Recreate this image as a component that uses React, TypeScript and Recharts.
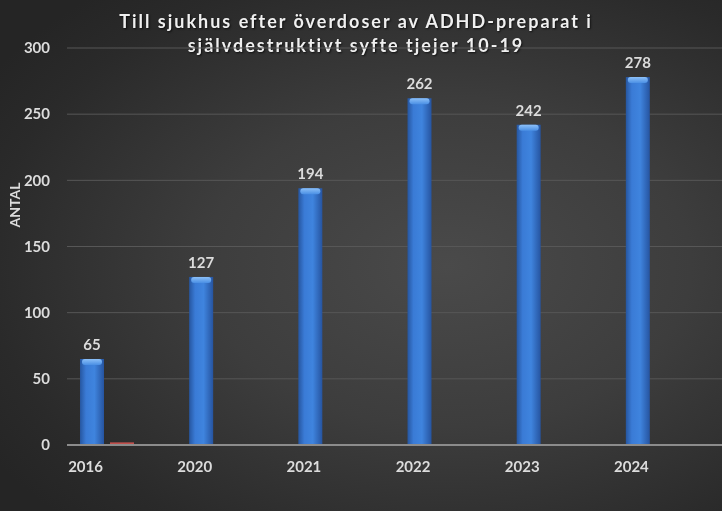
import React from 'react'
import { BarChart, Bar, XAxis, YAxis, CartesianGrid, LabelList } from 'recharts'

const years = ['2016', '2020', '2021', '2022', '2023', '2024']
const antal = [65, 127, 194, 262, 242, 278]
const serie2 = [2, 0, 0, 0, 0, 0]
const serie3 = [0, 0, 0, 0, 0, 0]
const yTicks = [0, 50, 100, 150, 200, 250, 300]
const TITLE_1 = 'Till sjukhus efter överdoser av ADHD-preparat i'
const TITLE_2 = 'självdestruktivt syfte tjejer 10-19'

const data = years.map((y, i) => ({ year: y, antal: antal[i], serie2: serie2[i], serie3: serie3[i] }))

const FONT = 'Lato, "Open Sans", sans-serif'
const TXT = '#dcdcdc'

const BlueBar = (props: any) => {
  const { x, y, width, height } = props
  if (!height || height <= 0) return null
  const cap = Math.min(6, height)
  return (
    <g>
      <rect x={x} y={y} width={width} height={height} fill="url(#barGrad)" />
      <rect x={x + 2} y={y} width={width - 4} height={cap} rx={3} fill="url(#capGrad)" />
    </g>
  )
}

const XTick = (props: any) => {
  const { x, y, payload } = props
  return (
    <text x={x - 36} y={y} dy="0.71em" textAnchor="middle" fill={TXT} fontSize={15} fontWeight={700} fontFamily={FONT}>
      {payload.value}
    </text>
  )
}

export default function App() {
  return (
    <div style={{ position: 'fixed', left: 0, top: 0, width: 722, height: 511, overflow: 'hidden',
      background: 'radial-gradient(ellipse 75% 70% at 62% 52%, #4a4a4a 0%, #3d3d3d 45%, #2a2a2a 85%, #252525 100%)' }}>
      <div style={{ position: 'absolute', left: 0, width: 712, top: 9, textAlign: 'center', color: '#f0f0f0',
        fontFamily: FONT, fontWeight: 700, fontSize: 18, lineHeight: '24px', letterSpacing: 2,
        textShadow: '1px 1px 2px rgba(0,0,0,0.7)' }}>
        <div>{TITLE_1}</div>
        <div>{TITLE_2}</div>
      </div>
      <div style={{ position: 'absolute', left: 14, top: 205, transform: 'translate(-50%, -50%) rotate(-90deg)',
        color: TXT, fontFamily: FONT, fontSize: 14, fontWeight: 700, whiteSpace: 'nowrap' }}>ANTAL</div>
      <BarChart width={722} height={511} data={data} barSize={24} barGap={6}
        margin={{ top: 48, right: 0, left: 0, bottom: 36 }} style={{ position: 'absolute', left: 0, top: 0 }}>
        <defs>
          <linearGradient id="barGrad" x1="0" y1="0" x2="1" y2="0">
            <stop offset="0%" stopColor="#2656a0" />
            <stop offset="25%" stopColor="#3a7bd6" />
            <stop offset="60%" stopColor="#3f84de" />
            <stop offset="100%" stopColor="#2654a0" />
          </linearGradient>
          <linearGradient id="capGrad" x1="0" y1="0" x2="0" y2="1">
            <stop offset="0%" stopColor="#8cc0f8" />
            <stop offset="100%" stopColor="#4a8fe4" />
          </linearGradient>
        </defs>
        <CartesianGrid vertical={false} stroke="#575757" strokeWidth={1} />
        <XAxis dataKey="year" tickLine={false} axisLine={{ stroke: '#8c8c8c', strokeWidth: 2 }} height={30}
          tickSize={6} tickMargin={10} tick={<XTick />} />
        <YAxis domain={[0, 300]} ticks={yTicks} width={67} axisLine={false} tickLine={false} tickSize={6} tickMargin={11}
          tick={{ fill: TXT, fontSize: 15, fontWeight: 700, fontFamily: FONT }} />
        <Bar dataKey="antal" shape={<BlueBar />} isAnimationActive={false}>
          <LabelList dataKey="antal" position="top" offset={9} fill={TXT} fontSize={15} fontWeight={700} fontFamily={FONT} />
        </Bar>
        <Bar dataKey="serie2" fill="#c0504d" isAnimationActive={false} />
        <Bar dataKey="serie3" fill="#9bbb59" isAnimationActive={false} />
      </BarChart>
    </div>
  )
}
